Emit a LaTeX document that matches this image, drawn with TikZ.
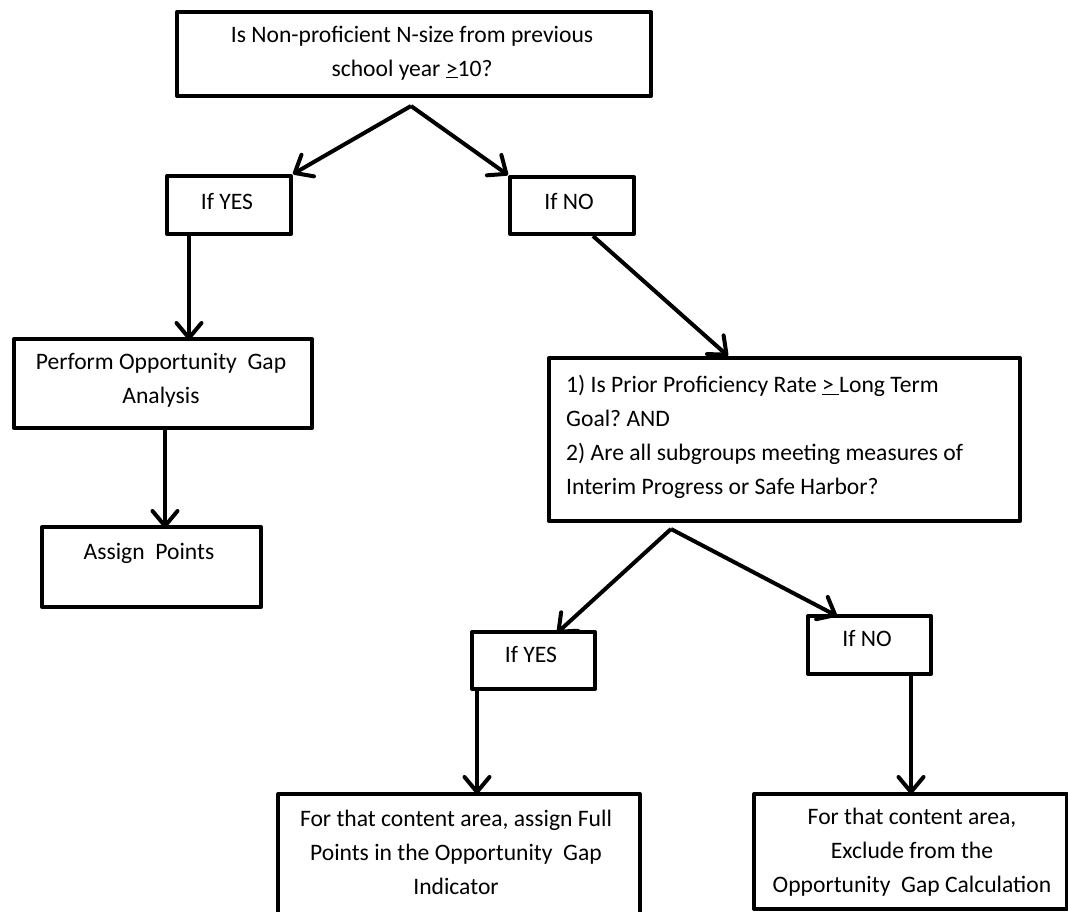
\documentclass[tikz,border=0pt]{standalone}
\usepackage{fontspec}
\setmainfont{Carlito}
\usetikzlibrary{arrows.meta,calc}
\frenchspacing
\begin{document}
\begin{tikzpicture}[x=1pt,y=-1pt,
  box/.style={draw=black,line width=4pt,line join=round,inner sep=0pt,anchor=north west},
  txt/.style={font=\fontsize{23.6}{34}\selectfont,align=center,inner sep=0pt,text=black},
  arr/.style={line width=4pt,-{Straight Barb[length=15pt,width=25pt,line join=round,line cap=round]}}]
\clip (0,0) rectangle (1068,911);
\useasboundingbox (0,0) rectangle (1068,911);
% boxes
\node[box,minimum width=474,minimum height=84] (top) at (175,10) {};
\node[box,minimum width=124,minimum height=58] (yes1) at (165,174) {};
\node[box,minimum width=124,minimum height=57] (no1) at (508,175) {};
\node[box,minimum width=298,minimum height=89] (perf) at (12,337) {};
\node[box,minimum width=219,minimum height=80] (assign) at (40,525) {};
\node[box,minimum width=471,minimum height=163] (big) at (547,356) {};
\node[box,minimum width=123,minimum height=57] (yes2) at (470,630) {};
\node[box,minimum width=123,minimum height=58] (no2) at (806,614) {};
\node[box,minimum width=362,minimum height=140] (bl) at (276,792) {};
\node[box,minimum width=313,minimum height=115] (br) at (752,792) {};
% texts
\node[txt] (ttop) at (412,53) {Is Non-proficient N-size from previous\\school year \underline{>}10?};
\node[txt] (tyes1) at (227,201) {If YES};
\node[txt] (tno1) at (569,201) {If NO};
\node[txt] (tperf) at (161,380) {Perform Opportunity\ \ Gap\\Analysis};
\node[txt] (tassign) at (149,553) {Assign\ \ Points};
\node[txt,align=left,anchor=west] (tbig) at (566,437) {1) Is Prior Proficiency Rate \underline{>\ }Long Term\\Goal? AND\\2) Are all subgroups meeting measures of\\Interim Progress or Safe Harbor?};
\node[txt] (tyes2) at (531,654) {If YES};
\node[txt] (tno2) at (867,638) {If NO};
\node[txt] (tbl) at (456,852) {For that content area, assign Full\\Points in the Opportunity\ \ Gap\\Indicator};
\node[txt] (tbr) at (912,852) {For that content area,\\Exclude from the\\Opportunity\ \ Gap Calculation};
% connectors
\coordinate (a1) at ($(top.south west)+(236,8)$);
\coordinate (a2) at ($(big.south west)+(124,6)$);
\draw[arr] (a1) -- (yes1.north east);
\draw[arr] (a1) -- (no1.north west);
\draw[arr] ([xshift=85]no1.south west) -- ([xshift=181]big.north west);
\draw[arr] ([xshift=24]yes1.south west) -- ([xshift=24,yshift=-3]yes1.south west |- perf.north);
\draw[arr] ([xshift=153]perf.south west) -- ([xshift=153,yshift=-3]perf.south west |- assign.north);
\draw[arr] (a2) -- ([xshift=87,yshift=-3]yes2.north west);
\draw[arr] (a2) -- ([xshift=31,yshift=-2]no2.north west);
\draw[arr] ([xshift=7]yes2.south west) -- ([xshift=7,yshift=-2]yes2.south west |- bl.north);
\draw[arr] ([xshift=105]no2.south west) -- ([xshift=105,yshift=-2]no2.south west |- br.north);
\end{tikzpicture}
\end{document}
